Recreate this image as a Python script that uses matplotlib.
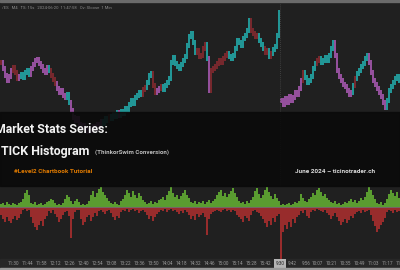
import matplotlib
matplotlib.use("Agg")
import matplotlib.pyplot as plt
from matplotlib.patches import Rectangle
from matplotlib.transforms import blended_transform_factory

plt.rcParams['font.family'] = ['Roboto', 'DejaVu Sans']

# ---------------- data ----------------
closes = [
    5528, 5522, 5515, 5510, 5514, 5520, 5523, 5518, 5512, 5514, 5516, 5513, 5518, 5520, 5516, 5522, 5526, 5530, 5531, 5527,
    5524, 5520, 5518, 5523, 5520, 5515, 5511, 5507, 5502, 5498, 5500, 5495, 5493, 5496, 5488, 5480, 5473, 5470, 5472, 5466,
    5463, 5465, 5461, 5459, 5462, 5460, 5464, 5462, 5466, 5464, 5469, 5467, 5472, 5470, 5474, 5472, 5476, 5474, 5478, 5475,
    5479, 5477, 5482, 5480, 5486, 5490, 5487, 5493, 5495, 5498, 5496, 5501, 5503, 5508, 5515, 5517, 5505, 5498, 5500, 5502,
    5504, 5501, 5505, 5508, 5512, 5528, 5533, 5527, 5524, 5522, 5526, 5530, 5534, 5545, 5554, 5557, 5548, 5538, 5540, 5534,
    5535, 5542, 5546, 5532, 5500, 5520, 5522, 5524, 5527, 5530, 5528, 5532, 5535, 5537, 5534, 5532, 5535, 5542, 5550, 5548,
    5545, 5552, 5555, 5560, 5570, 5560, 5557, 5554, 5555, 5550, 5546, 5542, 5538, 5540, 5534, 5537, 5541, 5544, 5555, 5578,
    5490, 5486, 5492, 5488, 5494, 5490, 5493, 5498, 5496, 5502, 5510, 5518, 5513, 5508, 5510, 5514, 5522, 5527, 5530, 5532,
    5528, 5530, 5533, 5530, 5535, 5542, 5548, 5535, 5520, 5514, 5510, 5506, 5504, 5500, 5496, 5498, 5505, 5512, 5517, 5520,
    5524, 5527, 5532, 5535, 5528, 5518, 5510, 5506, 5502, 5498, 5494, 5488, 5483, 5490, 5500, 5504, 5508, 5512, 5514, 5510,
]

# candle colour codes: c = teal, m = magenta, r = dark red
candle_codes = (
    "r" + "mmmmm" + "rrr" + "m" + "ccccc" + "m" + "mmmmmmmm" + "c" + "rrr" + "mmmmm" + "cc" + "mmmm"
    + "mmmmmmmmmmmm" + "cccrccccmcccc" + "cccccccrrcc" + "crrmmrccc" + "cccccccccccccc" + "rrrrrc"
    + "m" + "rrrrrrrrr" + "ccc" + "cccccccc" + "rrrr" + "ccc" + "rrcr" + "cccc"
    + "mmmmmmmmmmm" + "rccccccrrccccccc" + "mmmmmmmmm" + "crcccccc" + "mmmmmmmmm" + "ccccccc"
)

session_starts = [0, 140]

tick_high = [
    150, 200, 100, 250, 150, 100, 200, 150, 100, 200, 250, 400, 700, 850, 600, 200, 150, 250, 100, 150,
    200, 100, 150, 250, 300, 400, 350, 200, 100, 150, 100, 200, 400, 600, 500, 300, 150, 300, 400, 250,
    100, 150, 100, 150, 300, 600, 800, 500, 700, 900, 1000, 750, 600, 450, 300, 200, 150, 250, 150, 100,
    300, 400, 600, 850, 700, 500, 800, 600, 450, 700, 550, 350, 250, 150, 200, 300, 150, 250, 200, 350,
    400, 500, 350, 600, 800, 1000, 700, 500, 600, 400, 550, 700, 850, 600, 450, 250, 200, 300, 150, 250,
    200, 300, 150, 250, 350, 200, 300, 400, 600, 750, 850, 550, 700, 500, 650, 800, 950, 700, 500, 300,
    200, 250, 150, 300, 200, 350, 500, 800, 950, 650, 450, 600, 850, 1000, 750, 550, 400, 650, 450, 300,
    100, 150, 100, 150, 200, 100, 150, 250, 200, 300, 650, 450, 300, 250, 400, 500, 700, 600, 850, 950,
    750, 550, 650, 450, 350, 250, 200, 300, 150, 200, 100, 150, 250, 200, 300, 400, 250, 350, 200, 300,
    450, 350, 500, 750, 1000, 850, 600, 400, 200, 150, 250, 100, 200, 400, 650, 850, 700, 550, 750, 450,
]

tick_low = [
    -400, -600, -750, -500, -700, -800, -600, -450, -650, -550, -350, -150, -100, -200, -150, -500, -800, -1000, -1150, -900,
    -700, -950, -600, -450, -200, -300, -150, -350, -500, -750, -600, -400, -250, -200, -450, -1550, -600, -250, -150, -150,
    -600, -900, -750, -500, -400, -700, -500, -300, -450, -200, -150, -250, -350, -200, -150, -300, -500, -650, -450, -550,
    -250, -150, -200, -100, -250, -150, -100, -200, -150, -300, -200, -150, -250, -400, -600, -450, -700, -500, -350, -250,
    -150, -200, -100, -250, -150, -100, -200, -150, -250, -350, -200, -300, -150, -250, -400, -600, -450, -650, -350, -500,
    -400, -300, -500, -1400, -600, -350, -250, -200, -150, -200, -250, -150, -100, -200, -150, -250, -150, -200, -400, -500,
    -600, -750, -450, -550, -700, -400, -200, -150, -250, -300, -450, -600, -800, -1000, -700, -900, -550, -750, -450, -350,
    -2750, -1250, -900, -1100, -750, -1000, -600, -800, -500, -400, -200, -300, -150, -450, -550, -250, -150, -200, -100, -150,
    -200, -250, -150, -300, -400, -600, -450, -300, -500, -700, -900, -750, -600, -800, -650, -450, -550, -350, -250, -200,
    -300, -150, -250, -200, -150, -400, -700, -950, -1250, -1100, -900, -750, -550, -250, -150, -200, -300, -150, -250, -200,
]

session1_labels = ["11:30", "11:44", "11:58", "12:12", "12:26", "12:40", "12:54", "13:08", "13:22", "13:36",
                   "13:50", "14:04", "14:18", "14:32", "14:46", "15:00", "15:14", "15:28", "15:42"]
session2_open_label = "9:30"
session2_labels = ["9:42", "9:56", "10:07", "10:21", "10:35", "10:49", "11:03", "11:17", "11:31"]
session1_first_bar_time = "11:17"

header = "/ES   M4   TS: 15s   2024-06-20  11:47:58   Ov: Sloose  1 Min"
title1 = "Market Stats Series:"
title2 = "TICK Histogram"
subtitle = "(ThinkorSwim Conversion)"
tagline = "#Level2 Chartbook Tutorial"
credit = "June 2024 \u2013 ticinotrader.ch"

# ---------------- figure ----------------
W, H = 400, 270
fig = plt.figure(figsize=(4, 2.7), dpi=100, facecolor="#1d1d1d")

def fy(px):
    return 1 - px / H

colors = {"c": "#23a3a3", "m": "#a156aa", "r": "#80292f"}

# price panel
ax_p = fig.add_axes([0, fy(186), 1, (186 - 4) / H])
ax_p.set_facecolor("#202020")
for s in ax_p.spines.values():
    s.set_visible(False)
ax_p.set_xticks([]); ax_p.set_yticks([])
ax_p.set_xlim(0, W)
ax_p.set_ylim(5404, 5586)

n = len(closes)
xs = [2 * i + 1 for i in range(n)]
lows, highs, cols = [], [], []
for i in range(n):
    o = closes[i] if i in session_starts else closes[i - 1]
    c = closes[i]
    lows.append(min(o, c) - 2.5)
    highs.append(max(o, c) + 2.5)
    cols.append(colors[candle_codes[i]])
ax_p.vlines(xs, lows, highs, colors=cols, linewidth=1.3)

# session separator
sep_x = xs[session_starts[1]] - 1
ax_p.axvline(sep_x, color="#4a4a4a", lw=0.6, ls=(0, (1, 1.5)))

# histogram panel
ax_h = fig.add_axes([0, fy(268), 1, (268 - 186) / H])
ax_h.set_facecolor("#202020")
for s in ax_h.spines.values():
    s.set_visible(False)
ax_h.set_xticks([]); ax_h.set_yticks([])
ax_h.set_xlim(0, W)
ax_h.set_ylim(-3050, 1050)
ax_h.axhspan(-3050, -2580, color="#272727", zorder=0)
ax_h.bar(xs, tick_high, width=1.7, color="#5a9c30", edgecolor="none", zorder=2)
ax_h.bar(xs, tick_low, width=1.7, color="#982c2c", edgecolor="none", zorder=2)
ax_h.axhline(0, color="#707070", lw=0.6, zorder=3)

def mins(s):
    h, m = s.split(":")
    return int(h) * 60 + int(m)

tr = blended_transform_factory(ax_h.transData, fig.transFigure)
t0 = mins(session1_first_bar_time)
for lab in session1_labels:
    ax_h.text(mins(lab) - t0, fy(263.5), lab, transform=tr, fontsize=3.3, color="#9a9a9a",
              ha="center", va="center", zorder=4)
s2 = sep_x
t2 = mins(session2_open_label)
ax_h.text(s2, fy(263.5), session2_open_label, transform=tr, fontsize=3.3, color="#202020",
          ha="center", va="center", zorder=4,
          bbox=dict(boxstyle="square,pad=0.35", fc="#b5b5b5", ec="none"))
for lab in session2_labels:
    ax_h.text(s2 + mins(lab) - t2, fy(263.5), lab, transform=tr, fontsize=3.3, color="#9a9a9a",
              ha="center", va="center", zorder=4)

# frame strips
fig.patches.append(Rectangle((0, fy(1.5)), 1, 1.5 / H, transform=fig.transFigure,
                             color="#6a6a6a", zorder=5))
fig.patches.append(Rectangle((0, 0), 1, 2 / H, transform=fig.transFigure,
                             color="#9a9a9a", zorder=5))

# banner
fig.patches.append(Rectangle((0, fy(186)), 1, (186 - 112) / H, transform=fig.transFigure,
                             color="#0a0a0a", alpha=0.9, zorder=5))

fig.text(2 / W, fy(8), header, fontsize=3.0, color="#8a8a8a", va="center", ha="left", zorder=6)
fig.text(-5 / W, fy(129.5), title1, fontsize=8.9, fontweight="bold", color="#f2f2f2",
         va="center", ha="left", zorder=6)
fig.text(1 / W, fy(151), title2, fontsize=8.9, fontweight="bold", color="#f2f2f2",
         va="center", ha="left", zorder=6)
fig.text(95 / W, fy(152.5), subtitle, fontsize=4.4, fontweight="bold", color="#bdbdbd",
         va="center", ha="left", zorder=6)
fig.text(14 / W, fy(171.5), tagline, fontsize=4.6, fontweight="bold", color="#e07a00",
         va="center", ha="left", zorder=6)
fig.text(295 / W, fy(171.5), credit, fontsize=4.6, fontweight="bold", color="#dcdcdc",
         va="center", ha="left", zorder=6)

fig.savefig("out.png", dpi=100, facecolor=fig.get_facecolor())
